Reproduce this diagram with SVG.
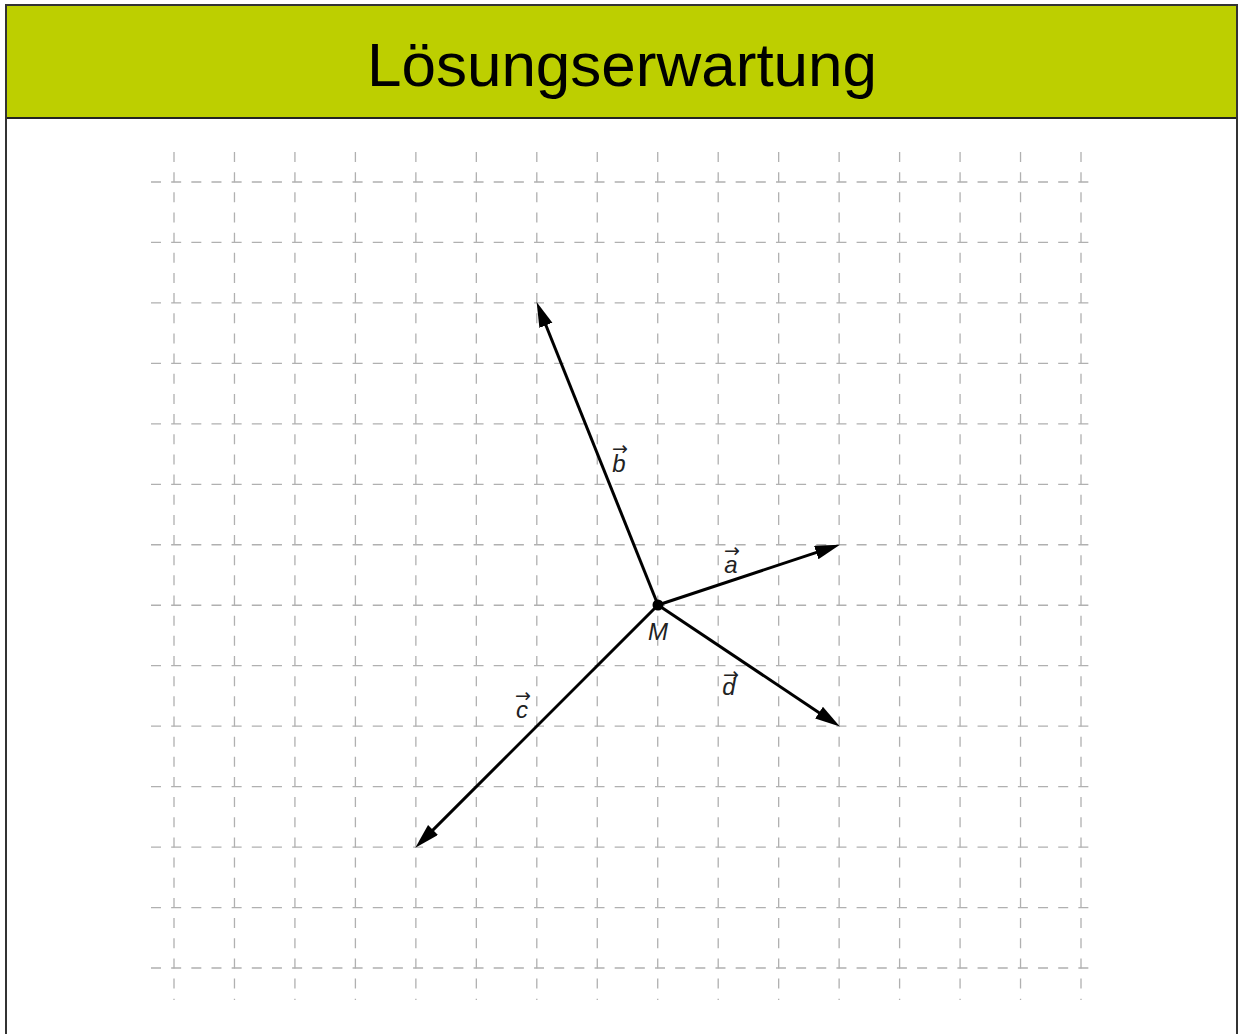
<svg xmlns="http://www.w3.org/2000/svg" width="1238" height="1034" viewBox="0 0 1238 1034">
<style>
.frame{fill:none;stroke:#333;stroke-width:2}
.gv{stroke:#b0b0b0;stroke-width:1.3;stroke-dasharray:10 10.16;fill:none}
.vec{stroke:#000;stroke-width:3;fill:none;marker-end:url(#ah)}
.lbl{font-family:"Liberation Sans",Arial,sans-serif;font-style:italic;font-size:24px;fill:#222;text-anchor:middle}
.acc{font-family:"DejaVu Sans",sans-serif;font-style:normal;font-size:19px}
</style>
<defs>
<marker id="ah" markerUnits="userSpaceOnUse" markerWidth="26" markerHeight="16" refX="14" refY="7" orient="auto">
<path d="M0,0 L25,7 L0,14 z" fill="#000"/>
</marker>
</defs>
<rect x="0" y="0" width="1238" height="1034" fill="#fff"/>
<g id="header">
<rect x="6" y="5" width="1231" height="113" fill="#bdcf00"/>
<line x1="6" y1="118" x2="1237" y2="118" stroke="#222" stroke-width="2"/>
<text x="622" y="86" font-family="'Liberation Sans',Arial,sans-serif" font-size="62" text-anchor="middle" fill="#000">Lösungserwartung</text>
</g>
<path class="frame" d="M6,1040 V5 H1237 V1040"/>
<g id="grid">
<g class="gv">
<path d="M174,152V1000M234.47,152V1000M294.93,152V1000M355.4,152V1000M415.87,152V1000M476.33,152V1000M536.8,152V1000M597.27,152V1000M657.73,152V1000M718.2,152V1000M778.67,152V1000M839.13,152V1000M899.6,152V1000M960.07,152V1000M1020.53,152V1000M1081,152V1000"/>
<path d="M151,182H1093M151,242.46H1093M151,302.92H1093M151,363.38H1093M151,423.85H1093M151,484.31H1093M151,544.77H1093M151,605.23H1093M151,665.69H1093M151,726.15H1093M151,786.62H1093M151,847.08H1093M151,907.54H1093M151,968H1093"/>
</g>
</g>
<g id="connectors">
<line id="vec-a" class="vec" x1="658" y1="605" x2="829.5" y2="548.1"/>
<line id="vec-b" class="vec" x1="658" y1="605" x2="540.7" y2="312.3"/>
<line id="vec-c" class="vec" x1="658" y1="605" x2="423.1" y2="839.9"/>
<line id="vec-d" class="vec" x1="658" y1="605" x2="830.7" y2="720.4"/>
</g>
<g id="node-M">
<circle cx="658" cy="605" r="5.5" fill="#000"/>
<text class="lbl" x="658" y="640">M</text>
</g>
<g id="label-a">
<text class="lbl" x="731" y="573">a<tspan class="acc" x="732" y="557">→</tspan></text>
</g>
<g id="label-b">
<text class="lbl" x="619" y="472">b<tspan class="acc" x="620" y="455">→</tspan></text>
</g>
<g id="label-c">
<text class="lbl" x="522" y="718">c<tspan class="acc" x="523" y="702">→</tspan></text>
</g>
<g id="label-d">
<text class="lbl" x="729" y="695">d<tspan class="acc" x="731" y="681">→</tspan></text>
</g>
</svg>
